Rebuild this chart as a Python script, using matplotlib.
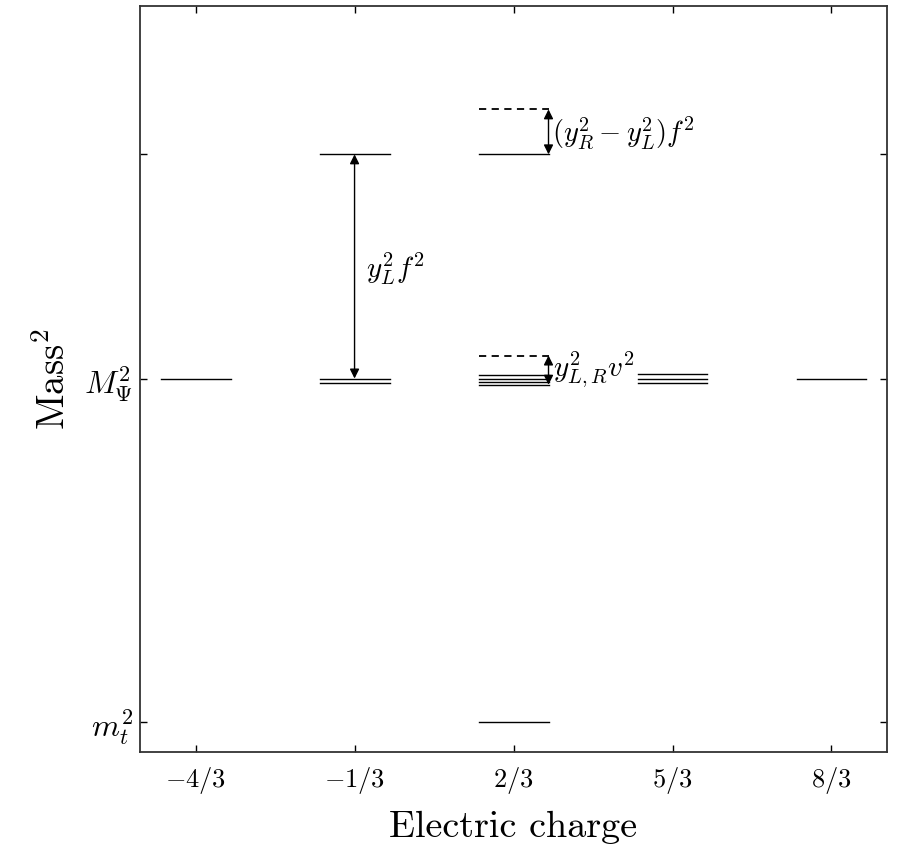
import matplotlib
matplotlib.use("Agg")
import matplotlib.pyplot as plt

plt.rcParams['font.family'] = 'serif'
plt.rcParams['font.serif'] = ['cmr10', 'DejaVu Serif']
plt.rcParams['mathtext.fontset'] = 'cm'
plt.rcParams['axes.unicode_minus'] = False

# charges on the x axis (index positions)
charges = [r"$-4/3$", r"$-1/3$", r"$2/3$", r"$5/3$", r"$8/3$"]

# mass^2 levels in units where m_t^2 = 0 and M_Psi^2 = 1
levels_m43 = [1.0]
levels_m13 = [1.0, 0.988, 1.653]
levels_23 = [0.0, 1.009, 1.0, 0.991, 0.982, 1.653]
levels_53 = [1.012, 1.0, 0.988]
levels_83 = [1.0]
dashed_23 = [1.067, 1.784]

ytick_vals = [0.0, 1.0, 1.653]
ytick_labels = [r"$m_t^2$", r"$M_\Psi^2$", ""]

half = 0.22

fig = plt.figure(figsize=(8.97, 8.51), dpi=100)
ax = fig.add_axes([0.156, 0.1163, 0.833, 0.8766])

all_levels = [levels_m43, levels_m13, levels_23, levels_53, levels_83]
for i, lev in enumerate(all_levels):
    for y in lev:
        ax.plot([i - half, i + half], [y, y], color='black', lw=1.0)

for y in dashed_23:
    ax.plot([2 - half, 2 + half], [y, y], color='black', lw=1.3, ls=(0, (4, 3)))

arrow = dict(arrowstyle='<|-|>', color='black', lw=1.0, mutation_scale=14,
             shrinkA=0, shrinkB=0)
ax.annotate("", xy=(1, levels_m13[1] + 0.012), xytext=(1, levels_m13[2]), arrowprops=arrow)
ax.annotate("", xy=(2 + half, levels_23[5]), xytext=(2 + half, dashed_23[1]), arrowprops=arrow)
ax.annotate("", xy=(2 + half, levels_23[4]), xytext=(2 + half, dashed_23[0]), arrowprops=arrow)

ax.text(1.07, 1.32, r"$y_L^2 f^2$", fontsize=21, ha='left', va='center')
ax.text(2 + half + 0.02, 1.715, r"$(y_R^2 - y_L^2) f^2$", fontsize=20.5, ha='left', va='center')
ax.text(2 + half + 0.03, 1.025, r"$y_{L,R}^2 v^2$", fontsize=21, ha='left', va='center')

ax.set_xlim(-0.35, 4.35)
ax.set_ylim(-0.088, 2.085)
ax.set_xticks(range(len(charges)))
ax.set_xticklabels(charges, fontsize=19)
ax.set_yticks(ytick_vals)
ax.set_yticklabels(ytick_labels, fontsize=23)
ax.tick_params(direction='in', top=True, right=True, length=5, width=1.0)
ax.tick_params(axis='x', pad=9)
ax.tick_params(axis='y', pad=5)

for s in ax.spines.values():
    s.set_linewidth(1.3)
    s.set_color('#333333')

ax.set_xlabel("Electric charge", fontsize=27.5, labelpad=11)
ax.set_ylabel(r"Mass$^2$", fontsize=28, labelpad=8)

fig.savefig("out.png", dpi=100)
